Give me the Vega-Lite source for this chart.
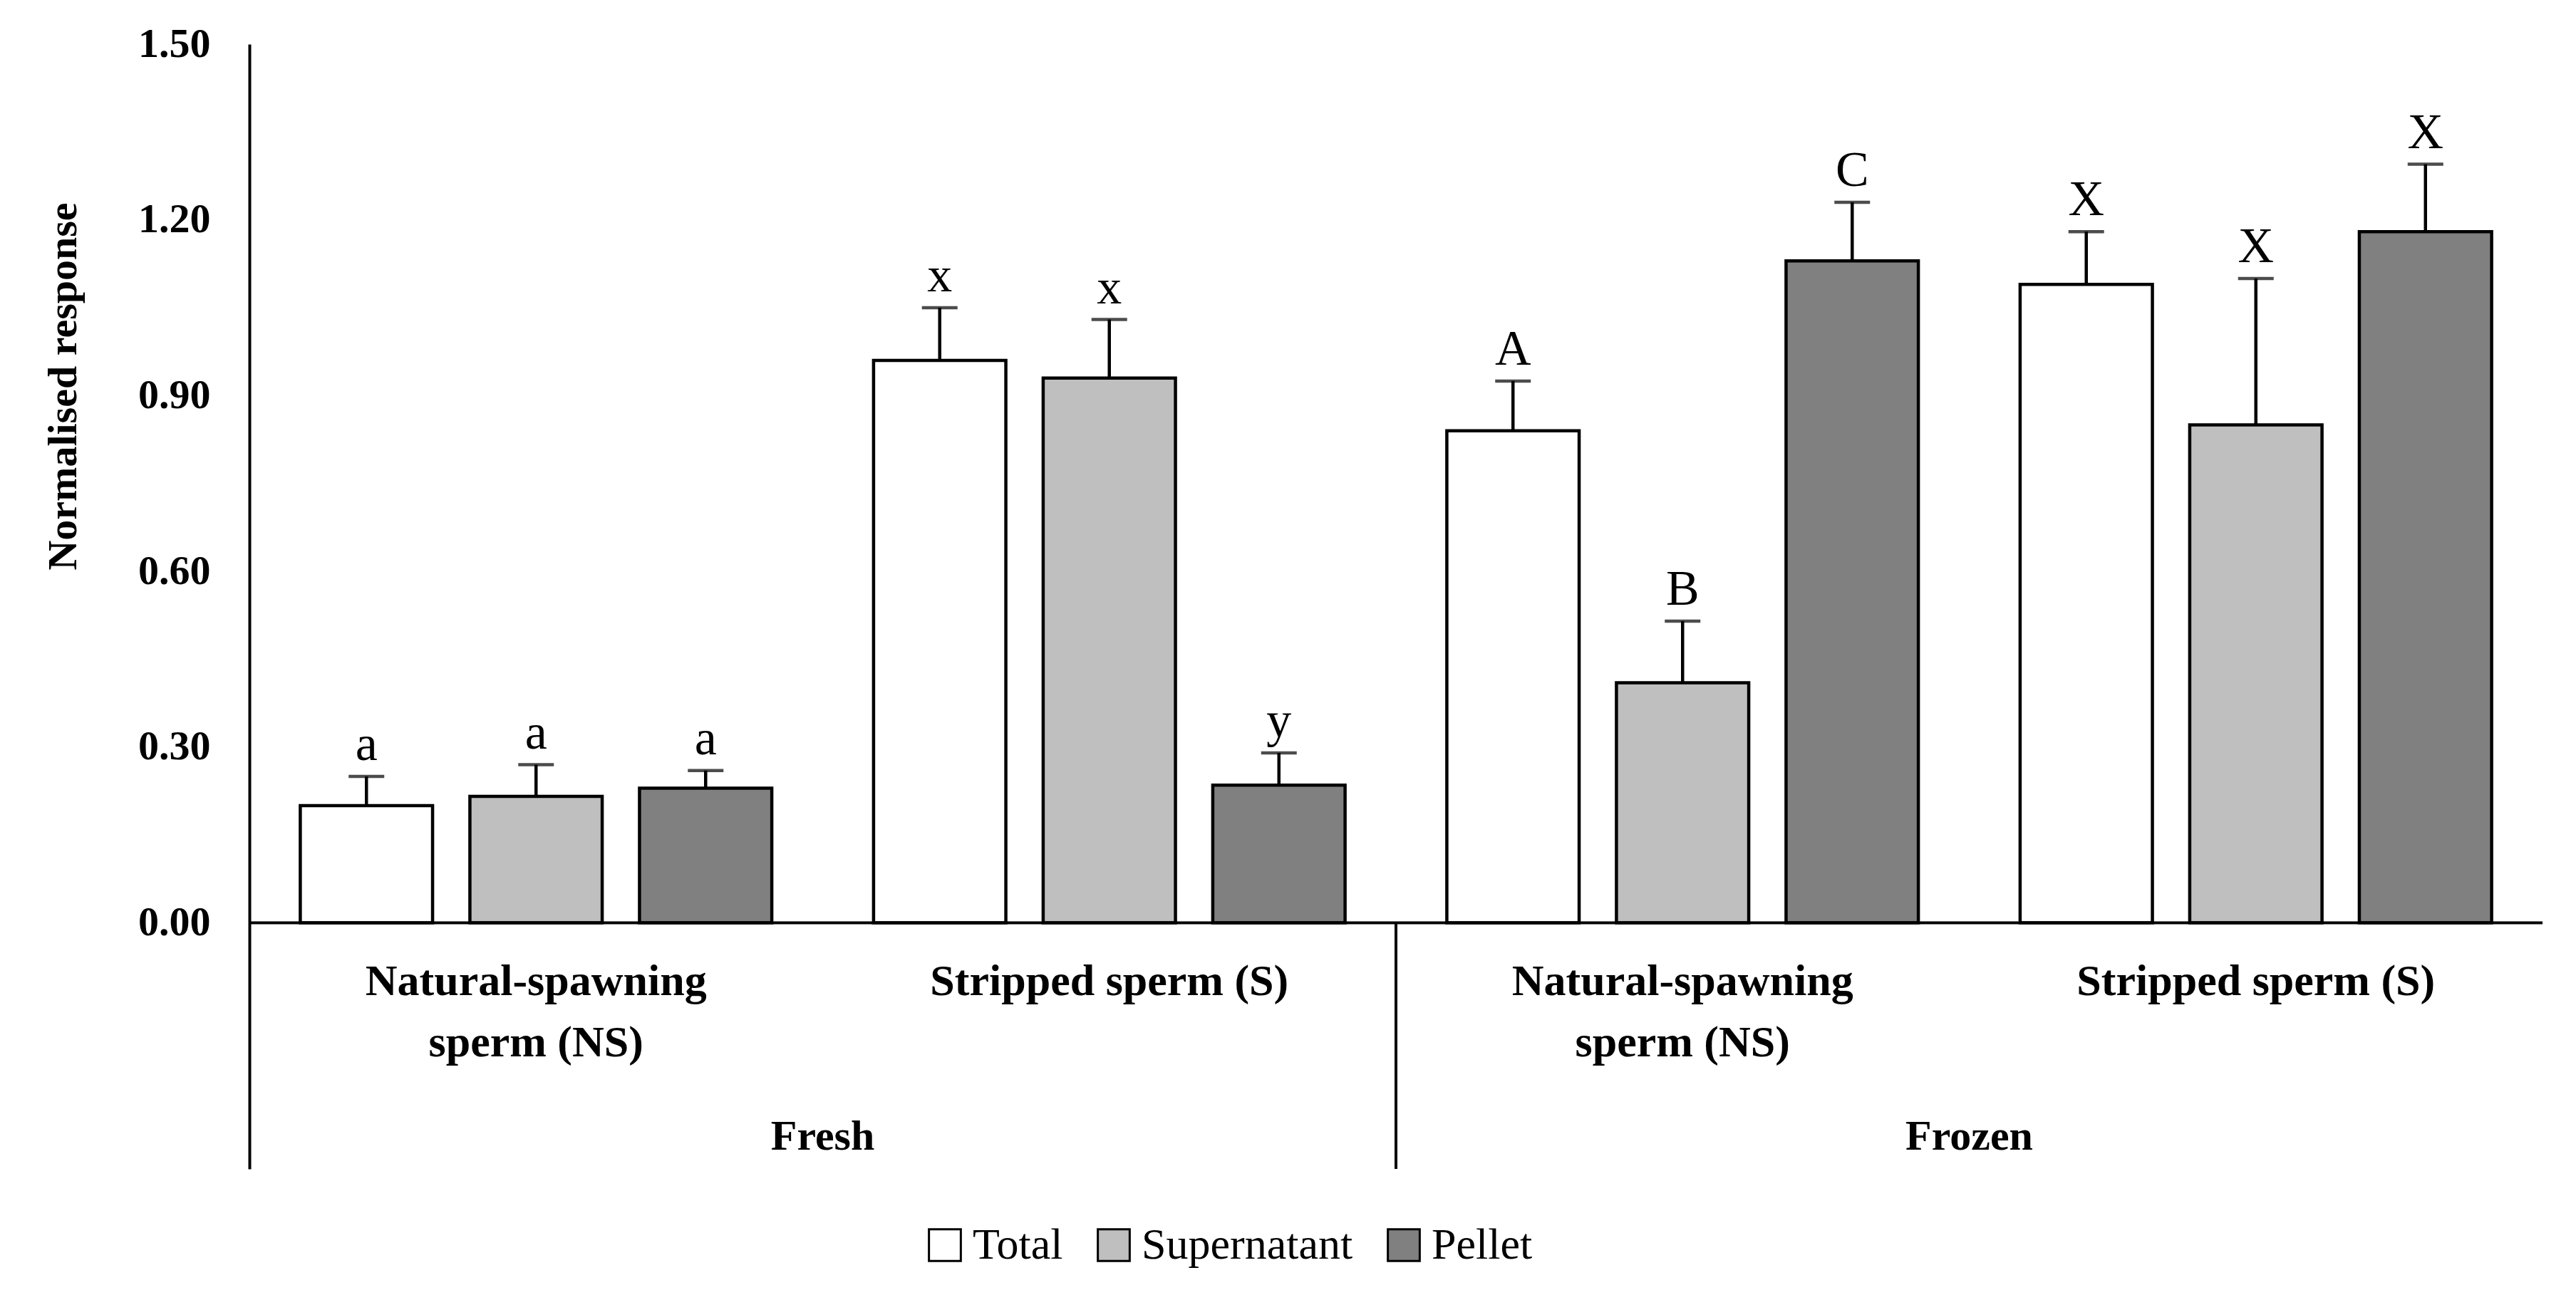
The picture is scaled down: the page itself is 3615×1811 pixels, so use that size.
{
"$schema":"https://vega.github.io/schema/vega-lite/v6.json",
"width":3218,"height":1579,
"autosize":{"type":"none"},
"padding":{"left":350,"top":62,"right":47,"bottom":170},
"background":"white",
"config":{"font":"Liberation Serif","view":{"stroke":null}},
"datasets":{
"bars":[
{"g":"Fresh NS","s":"Total","v":0.20,"e":0.25,"l":"a"},
{"g":"Fresh NS","s":"Supernatant","v":0.216,"e":0.27,"l":"a"},
{"g":"Fresh NS","s":"Pellet","v":0.23,"e":0.26,"l":"a"},
{"g":"Fresh S","s":"Total","v":0.96,"e":1.05,"l":"x"},
{"g":"Fresh S","s":"Supernatant","v":0.93,"e":1.03,"l":"x"},
{"g":"Fresh S","s":"Pellet","v":0.235,"e":0.29,"l":"y"},
{"g":"Frozen NS","s":"Total","v":0.84,"e":0.925,"l":"A"},
{"g":"Frozen NS","s":"Supernatant","v":0.41,"e":0.515,"l":"B"},
{"g":"Frozen NS","s":"Pellet","v":1.13,"e":1.23,"l":"C"},
{"g":"Frozen S","s":"Total","v":1.09,"e":1.18,"l":"X"},
{"g":"Frozen S","s":"Supernatant","v":0.85,"e":1.10,"l":"X"},
{"g":"Frozen S","s":"Pellet","v":1.18,"e":1.295,"l":"X"}
]},
"layer":[
{"data":{"name":"bars"},"mark":{"type":"bar","stroke":"black","strokeWidth":4.5},
"encoding":{
"x":{"field":"g","type":"nominal","sort":["Fresh NS","Fresh S","Frozen NS","Frozen S"],"scale":{"paddingInner":0,"paddingOuter":0},"axis":null},
"xOffset":{"field":"s","type":"nominal","sort":["Total","Supernatant","Pellet"],"scale":{"paddingInner":0.22,"paddingOuter":0.3}},
"y":{"field":"v","type":"quantitative","scale":{"domain":[-0.42,1.5],"nice":false,"zero":false},
"axis":{"values":[0,0.3,0.6,0.9,1.2,1.5],"format":".2f","title":"Normalised response","titleFontSize":58,"titleFontWeight":"bold","titlePadding":75,"titleY":480,"labelFontSize":58,"labelFontWeight":"bold","labelColor":"black","tickSize":0,"labelPadding":55,"grid":false,"domainColor":"black","domainWidth":4,"titleColor":"black"}},
"fill":{"field":"s","type":"nominal","sort":["Total","Supernatant","Pellet"],"scale":{"domain":["Total","Supernatant","Pellet"],"range":["white","#bfbfbf","#808080"]},
"legend":{"title":null,"orient":"none","legendX":945,"legendY":1655,"direction":"horizontal","symbolType":"square","symbolSize":2000,"symbolStrokeColor":"black","symbolStrokeWidth":3,"labelFontSize":62,"labelColor":"black","labelLimit":0,"columnPadding":40,"labelOffset":8}}}},
{"data":{"name":"bars"},"mark":{"type":"rule","stroke":"black","strokeWidth":4.5},
"encoding":{"x":{"field":"g","type":"nominal","sort":["Fresh NS","Fresh S","Frozen NS","Frozen S"]},
"xOffset":{"field":"s","type":"nominal","sort":["Total","Supernatant","Pellet"]},
"y":{"field":"v","type":"quantitative"},"y2":{"field":"e"}}},
{"data":{"name":"bars"},"mark":{"type":"tick","color":"black","thickness":4.5,"size":50},
"encoding":{"x":{"field":"g","type":"nominal","sort":["Fresh NS","Fresh S","Frozen NS","Frozen S"]},
"xOffset":{"field":"s","type":"nominal","sort":["Total","Supernatant","Pellet"]},
"y":{"field":"e","type":"quantitative"}}},
{"data":{"name":"bars"},"mark":{"type":"text","fontSize":70,"baseline":"bottom","dy":-8,"color":"black"},
"encoding":{"x":{"field":"g","type":"nominal","sort":["Fresh NS","Fresh S","Frozen NS","Frozen S"]},
"xOffset":{"field":"s","type":"nominal","sort":["Total","Supernatant","Pellet"]},
"y":{"field":"e","type":"quantitative"},"text":{"field":"l"}}},
{"data":{"values":[{"y":0}]},"mark":{"type":"rule","stroke":"black","strokeWidth":4},"encoding":{"y":{"field":"y","type":"quantitative"}}},
{"data":{"values":[{"g":"Frozen NS","y":0,"y2":-0.42}]},"mark":{"type":"rule","stroke":"black","strokeWidth":4},
"encoding":{"x":{"field":"g","type":"nominal","sort":["Fresh NS","Fresh S","Frozen NS","Frozen S"],"bandPosition":0},"y":{"field":"y","type":"quantitative"},"y2":{"field":"y2"}}},
{"data":{"values":[{"g":"Fresh NS","t":"Natural-spawning\nsperm (NS)","y":-0.1},{"g":"Fresh S","t":"Stripped sperm (S)","y":-0.1},{"g":"Frozen NS","t":"Natural-spawning\nsperm (NS)","y":-0.1},{"g":"Frozen S","t":"Stripped sperm (S)","y":-0.1}]},
"mark":{"type":"text","fontSize":62,"fontWeight":"bold","baseline":"middle","lineBreak":"\n","lineHeight":86,"color":"black"},
"encoding":{"x":{"field":"g","type":"nominal","sort":["Fresh NS","Fresh S","Frozen NS","Frozen S"]},"y":{"field":"y","type":"quantitative"},"text":{"field":"t"}}},
{"data":{"values":[{"g":"Fresh S","t":"Fresh","y":-0.365},{"g":"Frozen S","t":"Frozen","y":-0.365}]},
"mark":{"type":"text","fontSize":60,"fontWeight":"bold","baseline":"middle","color":"black"},
"encoding":{"x":{"field":"g","type":"nominal","sort":["Fresh NS","Fresh S","Frozen NS","Frozen S"],"bandPosition":0},"y":{"field":"y","type":"quantitative"},"text":{"field":"t"}}}
]
}
